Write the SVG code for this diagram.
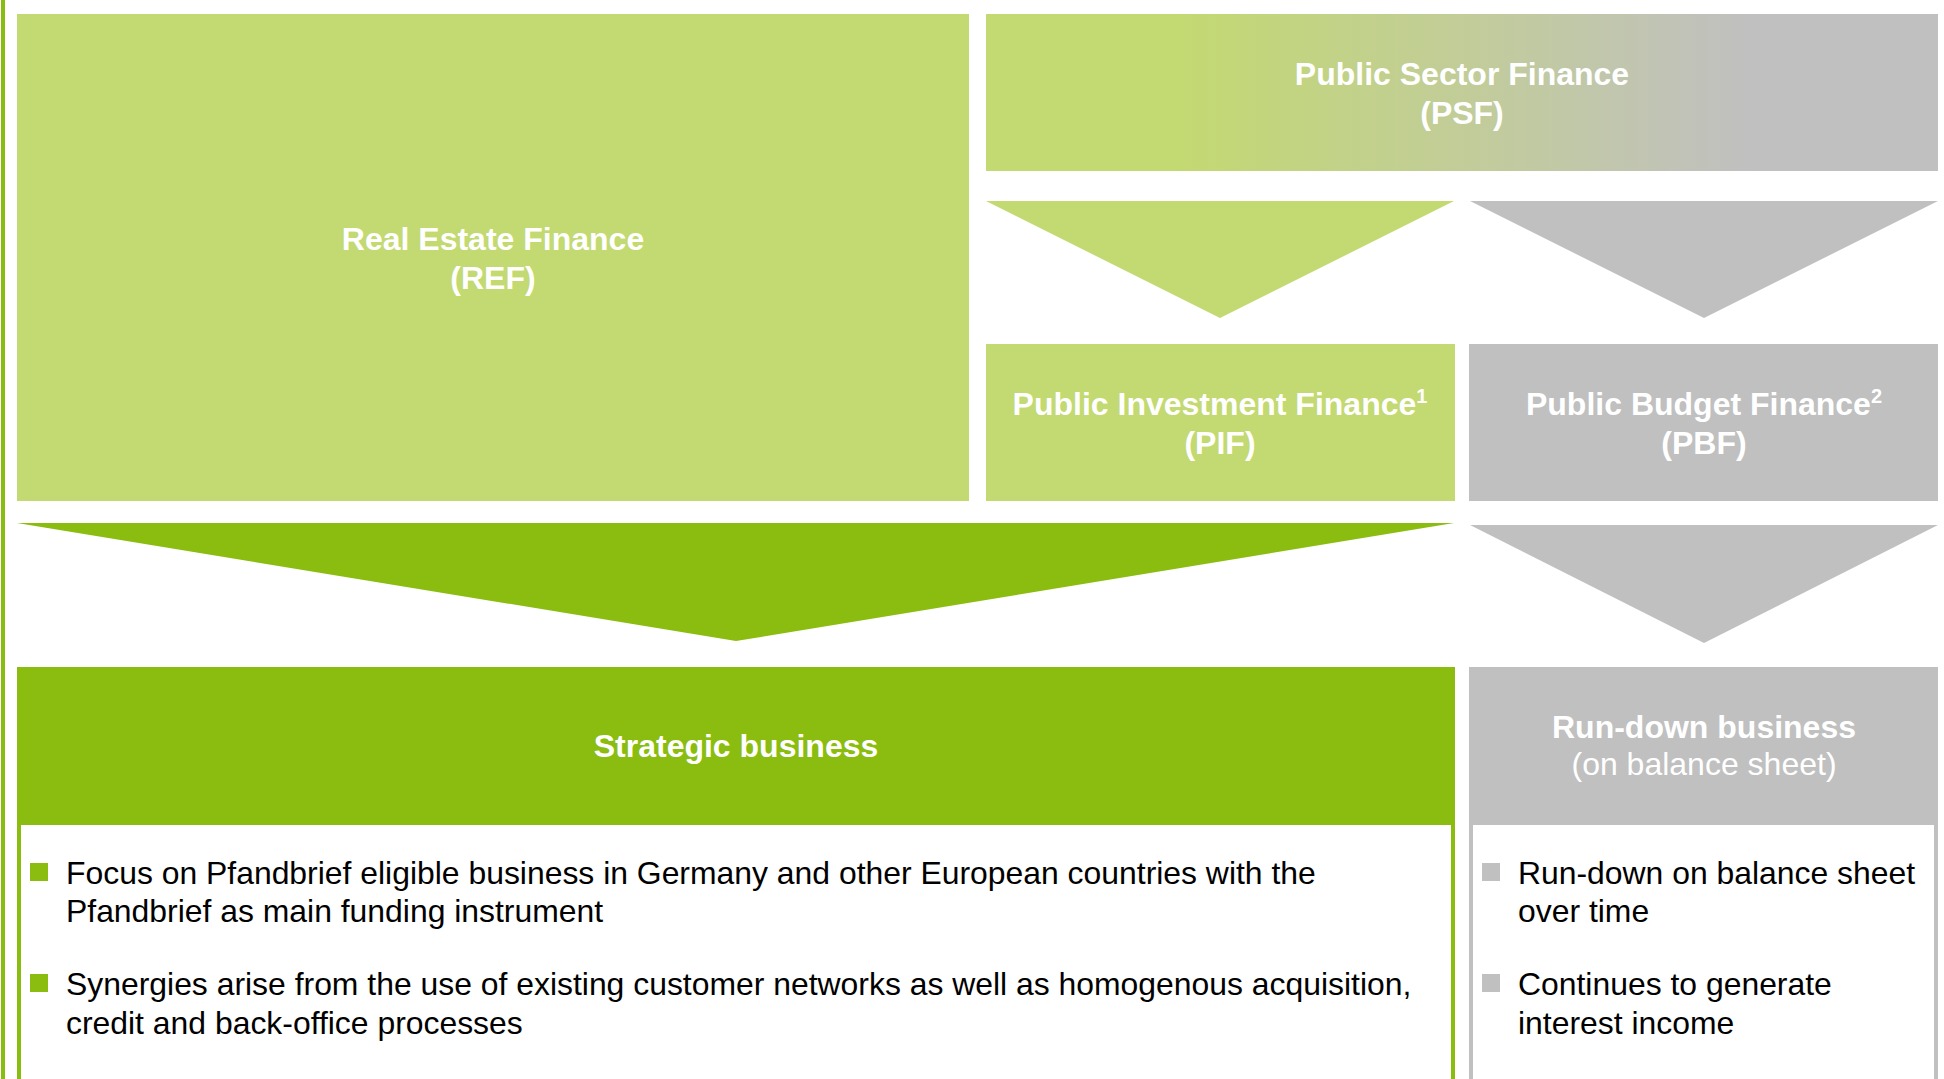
<svg xmlns="http://www.w3.org/2000/svg" width="1944" height="1079" viewBox="0 0 1944 1079">
<defs>
<linearGradient id="psfGrad" x1="0" y1="0" x2="1" y2="0">
<stop offset="0" stop-color="#C3D971"/>
<stop offset="0.2" stop-color="#C3D971"/>
<stop offset="0.8" stop-color="#C0C0C0"/>
<stop offset="1" stop-color="#C0C0C0"/>
</linearGradient>
<style>
.lg{fill:#C3D971}
.dg{fill:#8ABD0F}
.gr{fill:#C0C0C0}
.title{font-family:"Liberation Sans",Arial,sans-serif;font-size:32px;font-weight:bold;fill:#FFFFFF;text-anchor:middle}
.sub{font-family:"Liberation Sans",Arial,sans-serif;font-size:32px;fill:#FFFFFF;text-anchor:middle}
.body{font-family:"Liberation Sans",Arial,sans-serif;font-size:31.9px;fill:#000000}
.sup{font-size:20px}
</style>
</defs>
<rect x="0" y="0" width="1944" height="1079" fill="#FFFFFF"/>
<rect x="1" y="0" width="4" height="1079" class="dg"/>

<g id="connectors">
<polygon points="986,201 1454,201 1220,318" class="lg"/>
<polygon points="1470,201 1938,201 1704,318" class="gr"/>
<polygon points="17,523 1454,523 736,641" class="dg"/>
<polygon points="1470,525 1938,525 1704,643" class="gr"/>
</g>

<g id="ref">
<rect x="17" y="14" width="952" height="487" class="lg"/>
<text class="title" x="493" y="250">Real Estate Finance</text>
<text class="title" x="493" y="289">(REF)</text>
</g>

<g id="psf">
<rect x="986" y="14" width="952" height="157" fill="url(#psfGrad)"/>
<text class="title" x="1462" y="85">Public Sector Finance</text>
<text class="title" x="1462" y="124">(PSF)</text>
</g>

<g id="pif">
<rect x="986" y="344" width="469" height="157" class="lg"/>
<text class="title" x="1220" y="415">Public Investment Finance<tspan class="sup" dy="-12">1</tspan></text>
<text class="title" x="1220" y="454">(PIF)</text>
</g>

<g id="pbf">
<rect x="1469" y="344" width="469" height="157" class="gr"/>
<text class="title" x="1704" y="415">Public Budget Finance<tspan class="sup" dy="-12">2</tspan></text>
<text class="title" x="1704" y="454">(PBF)</text>
</g>

<g id="strategic">
<rect x="17" y="667" width="1438" height="158" class="dg"/>
<rect x="19" y="823" width="1434" height="258" fill="#FFFFFF" stroke="#8ABD0F" stroke-width="4"/>
<text class="title" x="736" y="757">Strategic business</text>
<rect x="30" y="863" width="18" height="18" class="dg"/>
<text class="body" x="66" y="884">Focus on Pfandbrief eligible business in Germany and other European countries with the</text>
<text class="body" x="66" y="922">Pfandbrief as main funding instrument</text>
<rect x="30" y="974" width="18" height="18" class="dg"/>
<text class="body" x="66" y="995">Synergies arise from the use of existing customer networks as well as homogenous acquisition,</text>
<text class="body" x="66" y="1034">credit and back-office processes</text>
</g>

<g id="rundown">
<rect x="1469" y="667" width="469" height="158" class="gr"/>
<rect x="1471" y="823" width="465" height="258" fill="#FFFFFF" stroke="#C0C0C0" stroke-width="4"/>
<text class="title" x="1704" y="738">Run-down business</text>
<text class="sub" x="1704" y="775">(on balance sheet)</text>
<rect x="1482" y="863" width="18" height="18" class="gr"/>
<text class="body" x="1518" y="884">Run-down on balance sheet</text>
<text class="body" x="1518" y="922">over time</text>
<rect x="1482" y="974" width="18" height="18" class="gr"/>
<text class="body" x="1518" y="995">Continues to generate</text>
<text class="body" x="1518" y="1034">interest income</text>
</g>
</svg>
